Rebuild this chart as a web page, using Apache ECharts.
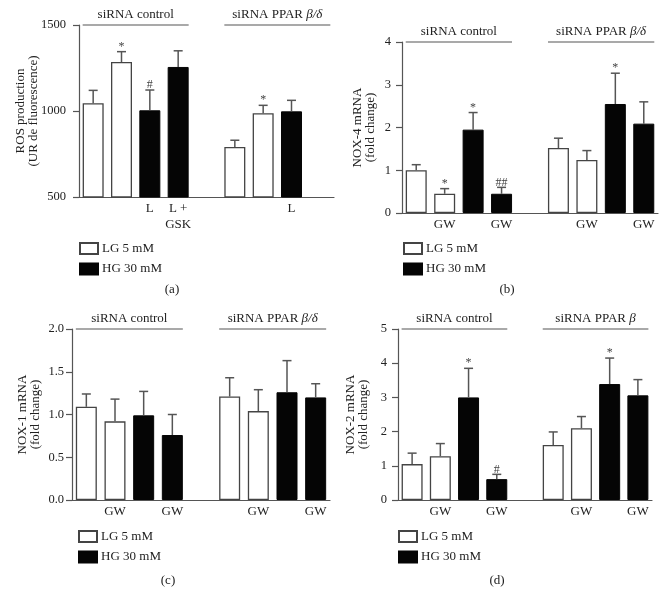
<!DOCTYPE html>
<html>
<head>
<meta charset="utf-8">
<script src="https://cdn.jsdelivr.net/npm/echarts@6/dist/echarts.min.js"></script>
<style>html,body{margin:0;padding:0;background:#fff}#c{width:667px;height:606px}</style>
</head>
<body>
<div id="c"></div>
<script>
// ---- data (order: LG, LG, HG, HG | LG, LG, HG, HG) ----
const seriesNames = ['LG 5 mM', 'HG 30 mM'];
const barKinds = ['LG', 'LG', 'HG', 'HG', 'LG', 'LG', 'HG', 'HG'];
const groupNames = ['siRNA control', 'siRNA PPAR {i|β/δ}'];
const groupNamesD = ['siRNA control', 'siRNA PPAR {i|β}'];

const ticksA = ['', '', 'L', 'L +\nGSK', '', '', '', 'L', ''];
const ticksGW = ['', 'GW', '', 'GW', '', '', 'GW', '', 'GW'];

const rosMean = [1045, 1285, 1004, 1256, 791, 987, 998, null];
const rosErr  = [75, 60, 118, 94, 39, 46, 64, null];
const rosMark = ['', '*', '#', '', '', '*', '', ''];

const nox4Mean = [1.00, 0.45, 1.95, 0.45, 1.52, 1.24, 2.55, 2.09];
const nox4Err  = [0.13, 0.12, 0.40, 0.15, 0.23, 0.22, 0.72, 0.51];
const nox4Mark = ['', '*', '*', '##', '', '', '*', ''];

const nox1Mean = [1.09, 0.92, 0.99, 0.76, 1.21, 1.04, 1.26, 1.20];
const nox1Err  = [0.15, 0.26, 0.28, 0.24, 0.22, 0.25, 0.37, 0.16];
const nox1Mark = ['', '', '', '', '', '', '', ''];

const nox2Mean = [1.05, 1.28, 3.00, 0.61, 1.61, 2.10, 3.39, 3.06];
const nox2Err  = [0.32, 0.37, 0.85, 0.14, 0.38, 0.34, 0.76, 0.46];
const nox2Mark = ['', '', '*', '#', '', '', '*', ''];

// ---- styling ----
const FONT = 'Liberation Serif';
const TXT = '#222';
const AX = '#555';
const BW = 21;

const panels = [
  {grid:{left:79, top:25, width:255, height:172}, min:500, max:1500, interval:500, fmt:v=>v,
   name:'ROS production\n(UR de fluorescence)', nameGap:39, labelMargin:13,
   ticks:ticksA, mean:rosMean, err:rosErr, mark:rosMark, groups:groupNames,
   legend:{left:79, top:242}, tag:'(a)', tagPos:[172, 290]},
  {grid:{left:402, top:42, width:256, height:171}, min:0, max:4, interval:1, fmt:v=>v,
   name:'NOX-4 mRNA\n(fold change)', nameGap:25, labelMargin:11,
   ticks:ticksGW, mean:nox4Mean, err:nox4Err, mark:nox4Mark, groups:groupNames,
   legend:{left:403, top:242}, tag:'(b)', tagPos:[507, 290]},
  {grid:{left:72, top:329, width:258, height:171}, min:0, max:2, interval:0.5, fmt:v=>v.toFixed(1),
   name:'NOX-1 mRNA\n(fold change)', nameGap:30, labelMargin:8,
   ticks:ticksGW, mean:nox1Mean, err:nox1Err, mark:nox1Mark, groups:groupNames,
   legend:{left:78, top:530}, tag:'(c)', tagPos:[168, 581]},
  {grid:{left:398, top:329, width:254, height:171}, min:0, max:5, interval:1, fmt:v=>v,
   name:'NOX-2 mRNA\n(fold change)', nameGap:28, labelMargin:11,
   ticks:ticksGW, mean:nox2Mean, err:nox2Err, mark:nox2Mark, groups:groupNamesD,
   legend:{left:398, top:530}, tag:'(d)', tagPos:[497, 581]}
];

const slotOf = i => (i < 4 ? i : i + 1);

const option = {
  animation:false,
  backgroundColor:'#fff',
  grid:[], xAxis:[], yAxis:[], series:[], legend:[], graphic:[]
};

panels.forEach((p, k) => {
  option.grid.push(p.grid);
  option.xAxis.push({
    type:'category', gridIndex:k, data:p.ticks,
    axisLine:{lineStyle:{color:AX, width:1.2}},
    axisTick:{show:false},
    axisLabel:{interval:0, margin:4, fontFamily:FONT, fontSize:13, color:TXT, lineHeight:15.5}
  });
  option.yAxis.push({
    type:'value', gridIndex:k, min:p.min, max:p.max, interval:p.interval,
    splitLine:{show:false},
    axisLine:{show:true, lineStyle:{color:AX, width:1.2}},
    axisTick:{show:true, length:6, lineStyle:{color:AX, width:1.2}},
    axisLabel:{margin:p.labelMargin, fontFamily:FONT, fontSize:12.5, color:TXT, formatter:p.fmt},
    name:p.name, nameLocation:'middle', nameGap:p.nameGap, nameRotate:90,
    nameMoveOverlap:false,
    nameTextStyle:{fontFamily:FONT, fontSize:13, color:TXT, lineHeight:13}
  });
  const lg = Array(9).fill('-'), hg = Array(9).fill('-');
  const ebData = [];
  p.mean.forEach((m, i) => {
    if (m === null) return;
    const s = slotOf(i);
    if (barKinds[i] === 'LG') lg[s] = m; else hg[s] = m;
    ebData.push([s, m, m + p.err[i], p.mark[i]]);
  });
  option.series.push({
    type:'bar', name:seriesNames[0], xAxisIndex:k, yAxisIndex:k, data:lg,
    barWidth:BW, barGap:'-100%',
    itemStyle:{color:'#fff', borderColor:'#444', borderWidth:1.3}
  });
  option.series.push({
    type:'bar', name:seriesNames[1], xAxisIndex:k, yAxisIndex:k, data:hg,
    barWidth:BW, barGap:'-100%',
    itemStyle:{color:'#050505', borderColor:'#050505', borderWidth:1}
  });
  option.series.push({
    type:'custom', name:'err'+k, xAxisIndex:k, yAxisIndex:k, data:ebData, z:5,
    renderItem:(params, api) => {
      const x = api.value(0);
      const lo = api.coord([x, api.value(1)]);
      const hi = api.coord([x, api.value(2)]);
      const mark = ebData[params.dataIndex][3];
      const ch = [
        {type:'line', shape:{x1:lo[0], y1:lo[1], x2:hi[0], y2:hi[1]}, style:{stroke:AX, lineWidth:1.5}},
        {type:'line', shape:{x1:hi[0]-4.5, y1:hi[1], x2:hi[0]+4.5, y2:hi[1]}, style:{stroke:AX, lineWidth:1.5}}
      ];
      if (mark) ch.push({type:'text', x:hi[0], y:hi[1]+1,
        style:{text:mark, fontFamily:FONT, fontSize:12, fill:'#444', align:'center', verticalAlign:'bottom'}});
      return {type:'group', children:ch};
    }
  });
  // group header lines and names, positioned through the axes
  const hdr = [[0, 3, p.max, p.groups[0]], [5, 8, p.max, p.groups[1]]];
  option.series.push({
    type:'custom', name:'hdr'+k, xAxisIndex:k, yAxisIndex:k, data:hdr, z:6,
    renderItem:(params, api) => {
      const a = api.coord([api.value(0), api.value(2)]);
      const b = api.coord([api.value(1), api.value(2)]);
      const x1 = a[0] - BW/2, x2 = b[0] + BW/2;
      const label = hdr[params.dataIndex][3];
      return {type:'group', children:[
        {type:'line', shape:{x1:x1, y1:a[1], x2:x2, y2:a[1]}, style:{stroke:AX, lineWidth:1.2}},
        {type:'text', x:(x1+x2)/2, y:a[1]-4,
         style:{text:label, fontFamily:FONT, fontSize:13, fill:TXT, align:'center', verticalAlign:'bottom',
                rich:{i:{fontFamily:FONT, fontStyle:'italic', fontSize:13, fill:TXT}}}}
      ]};
    }
  });
  option.legend.push({
    left:p.legend.left, top:p.legend.top, orient:'vertical', icon:'rect',
    itemWidth:18, itemHeight:11, itemGap:7.5,
    data:seriesNames, selectedMode:false,
    textStyle:{fontFamily:FONT, fontSize:13, color:TXT, padding:[0,0,0,-1]},
    padding:0
  });
  option.graphic.push({type:'text', x:p.tagPos[0], y:p.tagPos[1],
    style:{text:p.tag, fontFamily:FONT, fontSize:13, fill:TXT, align:'center', verticalAlign:'middle'}});
});

const chart = echarts.init(document.getElementById('c'), null, {renderer:'canvas'});
chart.setOption(option);
</script>
</body>
</html>
